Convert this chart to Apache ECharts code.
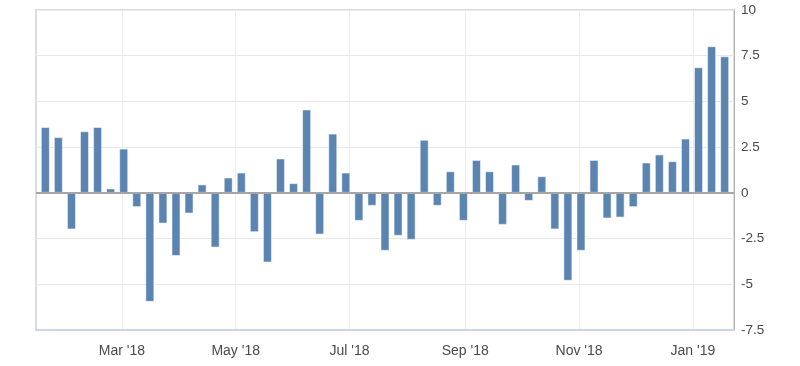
<!DOCTYPE html>
<html>
<head>
<meta charset="utf-8">
<script src="https://cdn.jsdelivr.net/npm/echarts@6/dist/echarts.min.js"></script>
<style>html,body{margin:0;padding:0;background:#fff}#c{width:800px;height:366px}</style>
</head>
<body>
<div id="c"></div>
<script>
// Weekly dates (Fridays) and values
const firstWeek = '2018-01-19';
const values = [
  3.6, 3.05, -2.0, 3.37, 3.6, 0.24, 2.42, -0.78, -5.96, -1.68,
  -3.45, -1.13, 0.46, -2.99, 0.84, 1.11, -2.15, -3.81, 1.88, 0.53,
  4.56, -2.28, 3.24, 1.11, -1.53, -0.71, -3.17, -2.35, -2.57, 2.9,
  -0.71, 1.18, -1.53, 1.8, 1.18, -1.75, 1.55, -0.44, 0.91, -2.0,
  -4.81, -3.17, 1.8, -1.4, -1.35, -0.78, 1.66, 2.1, 1.73, 2.97,
  6.87, 8.02, 7.47
];
const xTickDates = ['2018-03-01', '2018-05-01', '2018-07-01', '2018-09-01', '2018-11-01', '2019-01-01'];
const yTicks = [-7.5, -5, -2.5, 0, 2.5, 5, 7.5, 10];
const xMin = '2018-01-14';
const xMax = '2019-01-23';
const monthNames = ['Jan','Feb','Mar','Apr','May','Jun','Jul','Aug','Sep','Oct','Nov','Dec'];

function ts(s) { const p = s.split('-'); return Date.UTC(+p[0], +p[1] - 1, +p[2]); }
const weekDates = values.map((v, i) => ts(firstWeek) + i * 7 * 86400000);
const seriesData = values.map((v, i) => [weekDates[i], v]);
const xTicks = xTickDates.map(ts);

function fmt(v) {
  const d = new Date(v);
  return monthNames[d.getUTCMonth()] + " '" + String(d.getUTCFullYear()).slice(2);
}

const chart = echarts.init(document.getElementById('c'), null, {renderer: 'canvas'});
chart.setOption({
  animation: false,
  grid: {left: 36, right: 66, top: 10, bottom: 36, show: true, borderColor: '#dcdcdc', borderWidth: 2, backgroundColor: '#fff'},
  xAxis: {
    type: 'value',
    min: ts(xMin), max: ts(xMax),
    axisLine: {show: true, onZero: false, lineStyle: {color: '#ccd6eb', width: 2}},
    axisTick: {show: false, customValues: xTicks},
    axisLabel: {
      customValues: xTicks,
      margin: 14,
      color: '#4a4a4a', fontSize: 14, fontFamily: 'Liberation Sans, Arial, sans-serif',
      formatter: fmt
    },
    splitLine: {show: true, lineStyle: {color: '#eeeeee', width: 1}}
  },
  yAxis: {
    type: 'value',
    position: 'right',
    min: yTicks[0], max: yTicks[yTicks.length - 1], interval: 2.5,
    axisLine: {show: true, lineStyle: {color: '#b3b3b3', width: 1}},
    axisTick: {show: false},
    axisLabel: {margin: 7, color: '#4a4a4a', fontSize: 13.5, fontFamily: 'Liberation Sans, Arial, sans-serif'},
    splitLine: {show: true, lineStyle: {color: '#e8e8e8', width: 1}}
  },
  series: [{
    type: 'bar',
    data: seriesData,
    barWidth: 9,
    itemStyle: {color: '#5b84b1', borderColor: 'rgba(255,255,255,0.5)', borderWidth: 1},
    markLine: {
      silent: true, symbol: 'none', label: {show: false},
      lineStyle: {color: '#a6a6a6', width: 2, type: 'solid'},
      data: [{yAxis: 0}]
    }
  }]
});
</script>
</body>
</html>
